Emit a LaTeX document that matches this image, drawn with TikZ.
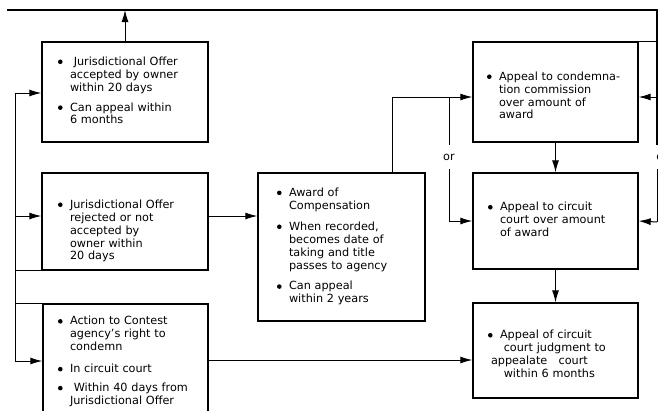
\documentclass[tikz,border=0pt]{standalone}
\usepackage{fontspec}
\setmainfont{DejaVu Sans}
\usetikzlibrary{arrows.meta}
\tikzstyle{stage}=[rectangle, draw, line width=1.4pt, inner xsep=16bp, inner ysep=0pt, align=left, font=\fontsize{11.3}{13}\selectfont]
\tikzstyle{orlabel}=[inner xsep=2bp, inner ysep=9bp, font=\fontsize{11.3}{13}\selectfont]
\tikzstyle{link}=[line width=1pt]
\newcommand{\stage}{\node[stage]}
\newcommand{\blob}{\tikz[baseline={(0bp,-3.4bp)}]\fill (0bp,0bp) circle (2.3bp);}
\newcommand{\itm}[1]{\makebox[12bp][l]{\blob}\begin{tabular}[t]{@{}l@{}}#1\end{tabular}}

\begin{document}
\begin{tikzpicture}[x=1bp, y=-1bp
    ,every edge/.style={draw, line width=1pt, -{Latex[length=12bp,width=7bp]}}
    ,vh/.style={to path={|- (\tikztotarget)}}
]
\useasboundingbox (0,0) rectangle (658,410);
\clip (0,0) rectangle (658,410);

\stage[text width=134bp, minimum height=100bp] (offacc) at (125,92)
  {\itm{\ Jurisdictional Offer\\accepted by owner\\within 20 days}\\[6bp]
   \itm{Can appeal within\\6 months}};
\stage[text width=134bp, minimum height=97bp] (offrej) at (125,221.5)
  {\rule{0pt}{29bp}\itm{Jurisdictional Offer\\rejected or not\\accepted by\\owner within\\20 days}};
\stage[inner xsep=15bp, text width=135bp, minimum height=116bp] (contest) at (125.5,362)
  {\itm{Action to Contest\\agency's right to\\condemn}\\[8bp]
   \itm{In circuit court}\\[6bp]
   \itm{\ Within 40 days from\\Jurisdictional Offer}};
\stage[inner xsep=19bp, text width=129bp, minimum height=148bp] (award) at (341.5,247)
  {\itm{Award of\\Compensation}\\[7bp]
   \itm{When recorded,\\becomes date of\\taking and title\\passes to agency}\\[7bp]
   \itm{Can appeal\\within 2 years}};
\stage[inner xsep=14bp, text width=137bp, minimum height=100bp] (comm) at (555.5,92)
  {\rule{0pt}{19bp}\itm{Appeal to condemna-\\tion commission\\over amount of\\award}};
\stage[inner xsep=15bp, text width=135bp, minimum height=96bp] (circ) at (555.5,221)
  {\itm{Appeal to circuit\\court over amount\\of award}};
\stage[inner xsep=15bp, text width=135bp, minimum height=95bp] (appl) at (555.5,350.5)
  {\rule{0pt}{19bp}\itm{Appeal of circuit\\\ court judgment to\\\hspace{-9bp}appealate\ \ \ court\\\ within 6 months}};

\node[orlabel] (orL) at (449,157) {or};
\node[orlabel] (orR) at (662,157) {or};

\coordinate (topL) at (7,10);
\coordinate (topR) at (657,10);
\coordinate (railA) at (15,93);
\coordinate (railB) at (15,216);
\coordinate (railC) at (15,361);
\coordinate (jointA) at (392,97);
\coordinate (rowC) at (0,360);
\coordinate (rightB) at (657,222);

% frame lines
\draw[line width=1.5pt] (topL) -- (topR) -- (orR.north -| topR);
\draw[link] (orR.south -| topR) -- (rightB);
\draw[line width=1.4pt] (comm.north east) -- (comm.north east -| topR);
\draw[link] (railA) -- (railC);
\draw[link] (offrej.south west) -- (offrej.south west -| railA);
\draw[link] (contest.north west) -- (contest.north west -| railA);
\draw[link] (award.north -| jointA) -- (jointA);
\draw[link] (jointA -| orL) -- (orL.north);

\path
(offacc.north) edge (offacc.north |- topL)
(railA) edge (railA -| offacc.west)
(railB) edge (railB -| offrej.west)
(railC) edge (railC -| contest.west)
(offrej.east |- railB) edge (award.west |- railB)
(jointA) edge (jointA -| comm.west)
(orL.south) edge[vh] (circ.west)
(topR |- jointA) edge (comm.east |- jointA)
(rightB) edge (circ.east)
(comm) edge (circ)
(circ) edge (appl)
(contest.east |- rowC) edge (appl.west |- rowC)
;
\end{tikzpicture}
\end{document}
